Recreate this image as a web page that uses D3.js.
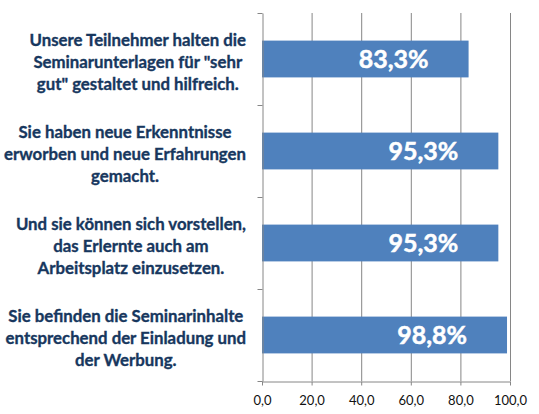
<!DOCTYPE html>
<html>
<head>
<meta charset="utf-8">
<script src="https://cdn.jsdelivr.net/npm/d3@7"></script>
<style>
  body { margin: 0; background: #fff; }
  svg { display: block; }
</style>
</head>
<body>
<svg id="chart" width="539" height="414"></svg>
<script>
// category labels, one entry per line of the wrapped label
const categoryLines = [
    ['Unsere Teilnehmer halten die', 'Seminarunterlagen für "sehr', 'gut" gestaltet und hilfreich.'],
    ['Sie haben neue Erkenntnisse', 'erworben und neue Erfahrungen', 'gemacht.'],
    ['Und sie können sich vorstellen,', 'das Erlernte auch am', 'Arbeitsplatz einzusetzen.'],
    ['Sie befinden die Seminarinhalte', 'entsprechend der Einladung und', 'der Werbung.']
];
const categories = categoryLines.map(lines => lines.join(' '));

// percentages
const values = [83.3, 95.3, 95.3, 98.8];

// x axis ticks
const xTicks = [0, 20, 40, 60, 80, 100];

const svg = d3.select('#chart');

// plot area
const margin = { top: 13, left: 262 };
const width = 248;
const height = 368;

const g = svg.append('g')
    .attr('transform', `translate(${margin.left},${margin.top})`);

const x = d3.scaleLinear()
    .domain([0, 100])
    .range([0, width]);

const y = d3.scaleBand()
    .domain(categories)
    .range([0, height])
    .paddingInner(0.6)
    .paddingOuter(0.3);

// category boundaries for the left axis ticks
const yEdge = d3.scaleLinear()
    .domain([0, categories.length])
    .range([0, height]);

const gridColor = '#868686';

// vertical gridlines
g.append('g')
    .selectAll('line')
    .data(xTicks.slice(1))
    .join('line')
    .attr('x1', d => x(d) + 0.5)
    .attr('x2', d => x(d) + 0.5)
    .attr('y1', 0)
    .attr('y2', height)
    .attr('stroke', gridColor)
    .attr('stroke-width', 1);

// bars
g.append('g')
    .selectAll('rect')
    .data(values)
    .join('rect')
    .attr('x', 0)
    .attr('y', (d, i) => y(categories[i]))
    .attr('width', d => x(d))
    .attr('height', y.bandwidth())
    .attr('fill', '#4f81bd');

// value labels inside the bar end
g.append('g')
    .selectAll('text')
    .data(values)
    .join('text')
    .attr('x', d => x(d) - 40)
    .attr('y', (d, i) => y(categories[i]) + y.bandwidth() / 2)
    .attr('dy', '0.36em')
    .attr('text-anchor', 'end')
    .attr('fill', '#fff')
    .attr('stroke', '#fff')
    .attr('stroke-width', 0.5)
    .style('font-family', 'Lato, sans-serif')
    .style('font-weight', 'bold')
    .style('font-size', '25px')
    .text(d => d.toFixed(1).replace('.', ',') + '%');

// left axis (ticks only at category edges)
const yAxis = g.append('g')
    .attr('transform', 'translate(0.5,0)')
    .call(d3.axisLeft(yEdge).ticks(categories.length).tickSize(5).tickSizeOuter(0).tickFormat(''));
yAxis.selectAll('path, line').attr('stroke', gridColor);

// bottom axis
const xAxis = g.append('g')
    .attr('transform', `translate(0,${height + 0.5})`)
    .call(d3.axisBottom(x)
        .tickValues(xTicks)
        .tickSize(4)
        .tickSizeOuter(0)
        .tickPadding(10)
        .tickFormat(d => d.toFixed(1).replace('.', ',')));
xAxis.selectAll('path, line').attr('stroke', gridColor);
xAxis.selectAll('text')
    .attr('fill', '#111')
    .style('font-family', 'Lato, sans-serif')
    .style('font-size', '13px');

// category labels: block right-aligned next to the axis, lines centred in block
const labelRight = 246;
const lineHeight = 21.7;
const labels = svg.append('g')
    .style('font-family', 'Lato, sans-serif')
    .style('font-weight', 'bold')
    .style('font-size', '16.8px')
    .attr('fill', '#17375e')
    .attr('stroke', '#17375e')
    .attr('stroke-width', 0.35);

categoryLines.forEach((lines, i) => {
    const cy = margin.top + y(categories[i]) + y.bandwidth() / 2 + 3;
    const block = labels.append('text')
        .attr('text-anchor', 'middle');
    const spans = block.selectAll('tspan')
        .data(lines)
        .join('tspan')
        .attr('y', (d, j) => cy + (j - (lines.length - 1) / 2) * lineHeight)
        .attr('dy', '0.35em')
        .text(d => d);
    const widest = d3.max(spans.nodes(), n => n.getComputedTextLength());
    spans.attr('x', labelRight - widest / 2);
});
</script>
</body>
</html>
